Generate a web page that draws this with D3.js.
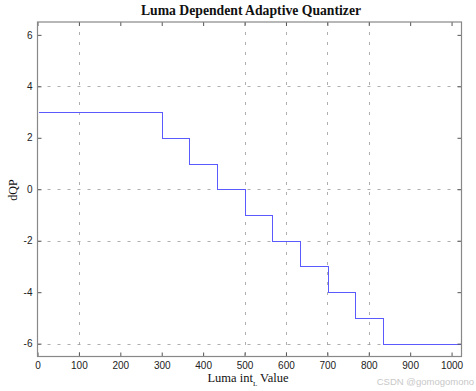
<!DOCTYPE html>
<html><head><meta charset="utf-8">
<script src="https://cdn.jsdelivr.net/npm/d3@7"></script>
<style>body{margin:0;background:#fff;} svg{display:block;}</style>
</head><body>
<svg id="c" width="476" height="391"></svg>
<script>
// Data
const stepStarts = [0, 300, 367, 434, 500, 567, 634, 701, 767, 834];
const dqpValues  = [3, 2, 1, 0, -1, -2, -3, -4, -5, -6];
const lumaMax = 1023;
const xTicks = [0,100,200,300,400,500,600,700,800,900,1000];
const yTicks = [-6,-4,-2,0,2,4,6];
const xGridVisible = [100,500,600,700,800];
const yGridVisible = [4,0,-2,-6];

const svg = d3.select('#c');
const L = 37.5, R = 461.5, T = 22, B = 356.5;
const x = d3.scaleLinear().domain([0, 1024]).range([L, R]);
const y = d3.scaleLinear().domain([-6.5, 6.5]).range([B, T]);

// grid
const g = svg.append('g');
g.selectAll('.vg').data(xGridVisible).enter().append('line')
  .attr('x1', d => Math.round(x(d)) + 0.5).attr('x2', d => Math.round(x(d)) + 0.5)
  .attr('y1', T).attr('y2', B)
  .attr('stroke', '#9a9a9a').attr('stroke-width', 0.8).attr('stroke-dasharray', '3,7');
g.selectAll('.hg').data(yGridVisible).enter().append('line')
  .attr('y1', d => Math.round(y(d)) + 0.5).attr('y2', d => Math.round(y(d)) + 0.5)
  .attr('x1', L).attr('x2', R)
  .attr('stroke', '#9a9a9a').attr('stroke-width', 0.8).attr('stroke-dasharray', '3,7');

// step line
const pts = [];
stepStarts.forEach((s, i) => {
  const e = i < stepStarts.length - 1 ? stepStarts[i+1] : lumaMax;
  pts.push([s, dqpValues[i]]);
  pts.push([e, dqpValues[i]]);
});
svg.append('path')
  .attr('d', d3.line().x(d => Math.round(x(d[0])) + 0.5).y(d => Math.round(y(d[1])) + 0.5)(pts))
  .attr('fill', 'none').attr('stroke', '#5a5aff').attr('stroke-width', 1)
  .attr('shape-rendering', 'crispEdges');

// axes
const bx = svg.append('g').attr('transform', `translate(0,${B})`)
  .call(d3.axisBottom(x).tickValues(xTicks).tickSize(-4).tickPadding(5).tickFormat(d3.format('d')));
const tx = svg.append('g').attr('transform', `translate(0,${T})`)
  .call(d3.axisTop(x).tickValues(xTicks).tickSize(-4).tickFormat(''));
const ly = svg.append('g').attr('transform', `translate(${L},0)`)
  .call(d3.axisLeft(y).tickValues(yTicks).tickSize(-4).tickPadding(5).tickFormat(d3.format('d')));
const ry = svg.append('g').attr('transform', `translate(${R},0)`)
  .call(d3.axisRight(y).tickValues(yTicks).tickSize(-4).tickFormat(''));
[bx, tx, ly, ry].forEach(a => {
  a.select('.domain').remove();
  a.selectAll('line').attr('stroke', '#555');
  a.selectAll('text').attr('fill', '#222').style('font-family', 'Liberation Sans, Arial, sans-serif').style('font-size', '10px');
});
ly.selectAll('text').text(d => d < 0 ? '-' + Math.abs(d) : d);

svg.append('rect').attr('x', L).attr('y', T).attr('width', R - L).attr('height', B - T)
  .attr('fill', 'none').attr('stroke', '#888').attr('stroke-width', 1.2);

// titles
svg.append('text').attr('x', 251).attr('y', 15).attr('text-anchor', 'middle')
  .style('font-family', 'Liberation Serif, Times New Roman, serif').style('font-weight', 'bold').style('font-size', '13.7px')
  .attr('fill', '#111').text('Luma Dependent Adaptive Quantizer');

const xl = svg.append('text').attr('x', 248).attr('y', 382).attr('text-anchor', 'middle')
  .style('font-family', 'Liberation Serif, Times New Roman, serif').style('font-size', '12.5px').attr('fill', '#111');
xl.append('tspan').text('Luma int');
xl.append('tspan').attr('dy', 4).style('font-size', '7px').text('L');
xl.append('tspan').attr('dy', -4).text(' Value');

svg.append('text').attr('transform', 'translate(17,190) rotate(-90)').attr('text-anchor', 'middle')
  .style('font-family', 'Liberation Serif, Times New Roman, serif').style('font-size', '12px').attr('fill', '#111')
  .text('dQP');

svg.append('text').attr('x', 474).attr('y', 385).attr('text-anchor', 'end')
  .style('font-family', 'Liberation Sans, Arial, sans-serif').style('font-size', '9.5px').attr('fill', '#c8c8c8')
  .text('CSDN @gomogomono');
</script>
</body></html>
